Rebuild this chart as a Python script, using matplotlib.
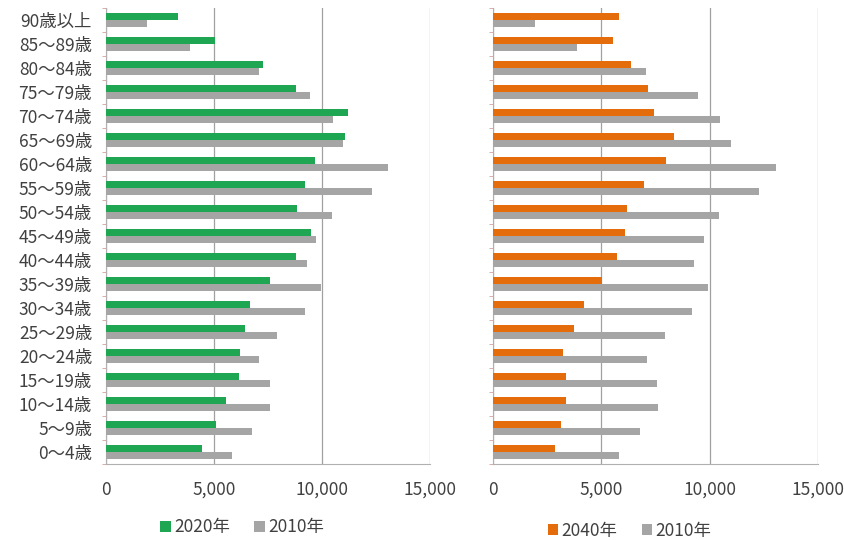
import numpy as np
import matplotlib.pyplot as plt

plt.rcParams['font.family'] = ['Noto Sans CJK JP', 'DejaVu Sans']

# age groups, bottom to top
ages = ['0～4歳', '5～9歳', '10～14歳', '15～19歳', '20～24歳', '25～29歳',
        '30～34歳', '35～39歳', '40～44歳', '45～49歳', '50～54歳', '55～59歳',
        '60～64歳', '65～69歳', '70～74歳', '75～79歳', '80～84歳', '85～89歳',
        '90歳以上']

pop2020 = [4440, 5090, 5560, 6160, 6200, 6440, 6670, 7590, 8800, 9490,
           8840, 9210, 9680, 11070, 11200, 8800, 7270, 5050, 3330]
pop2040 = [2850, 3130, 3390, 3390, 3230, 3730, 4190, 5030, 5740, 6080,
           6200, 6970, 7970, 8360, 7420, 7160, 6390, 5540, 5800]
pop2010 = [5840, 6770, 7600, 7580, 7100, 7930, 9190, 9930, 9290, 9730,
           10450, 12300, 13050, 10970, 10490, 9450, 7060, 3900, 1920]

xticks = [0, 5000, 10000, 15000]
xticklabels = ['0', '5,000', '10,000', '15,000']

c_green = '#1ea653'
c_orange = '#e46c0a'
c_gray = '#a5a5a5'
c_text = '#404040'

fig = plt.figure(figsize=(8.44, 5.4), dpi=100)
ax1 = fig.add_axes([0.1256, 0.141, 0.384, 0.844])
ax2 = fig.add_axes([0.5841, 0.141, 0.385, 0.844])

y = np.arange(len(ages))
h = 0.29

for ax, vals, col, lab in [(ax1, pop2020, c_green, '2020年'),
                           (ax2, pop2040, c_orange, '2040年')]:
    ax.barh(y + 0.16, vals, height=h, color=col, label=lab, zorder=3)
    ax.barh(y - 0.15, pop2010, height=h, color=c_gray, label='2010年', zorder=3)
    ax.set_xlim(0, 15000)
    ax.set_ylim(-0.5, len(ages) - 0.5)
    ax.set_xticks(xticks)
    ax.set_xticklabels(xticklabels, fontsize=12.5, color=c_text)
    ax.tick_params(axis='x', length=0, pad=12)
    ax.set_yticks(np.arange(len(ages) + 1) - 0.5, minor=True)
    ax.tick_params(axis='y', which='minor', length=3, color='#d0a0a0')
    ax.tick_params(axis='y', which='major', length=0)
    ax.grid(axis='x', color='#a0a0a0', linewidth=0.9, zorder=0)
    for s in ['top', 'right']:
        ax.spines[s].set_visible(False)
    ax.spines['left'].set_color('#b0b0b0')
    ax.spines['bottom'].set_color('#b0b0b0')

ax1.legend(loc='upper center', bbox_to_anchor=(0.42, -0.085), ncol=2,
           frameon=False, fontsize=12.5, handlelength=0.6, handleheight=0.6,
           handletextpad=0.2, columnspacing=1.4, labelcolor=c_text)
ax2.legend(loc='upper center', bbox_to_anchor=(0.42, -0.093), ncol=2,
           frameon=False, fontsize=12.5, handlelength=0.6, handleheight=0.6,
           handletextpad=0.2, columnspacing=1.4, labelcolor=c_text)

ax1.set_yticks(y)
ax1.set_yticklabels(ages, fontsize=12.5, color=c_text)
ax1.tick_params(axis='y', which='major', pad=10)
ax2.set_yticks(y)
ax2.set_yticklabels([])

fig.savefig('out.png', dpi=100)
